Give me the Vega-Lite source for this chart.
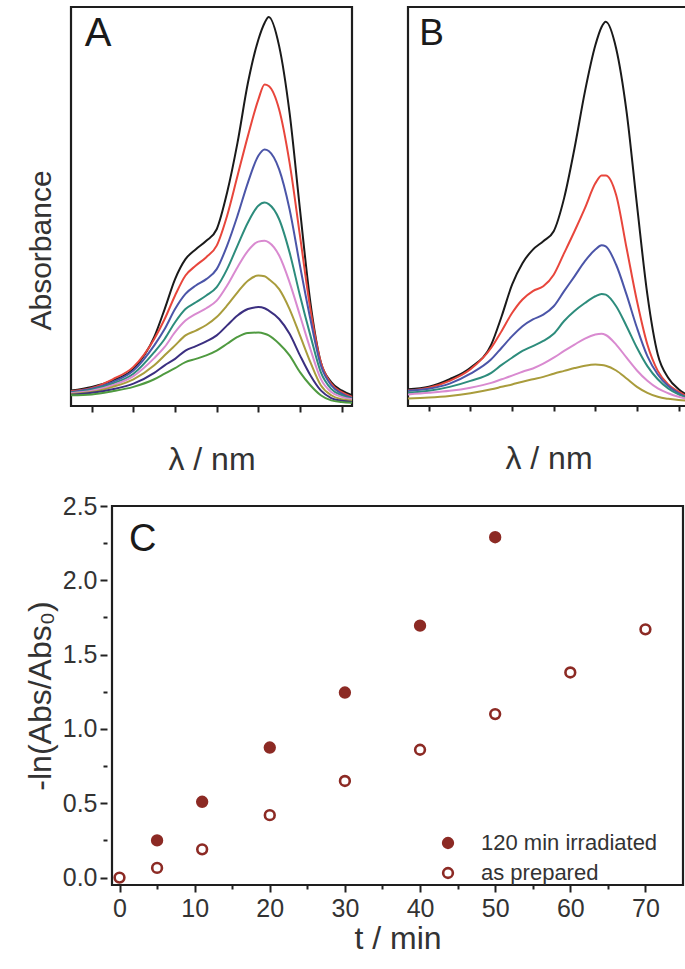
{
  "$schema": "https://vega.github.io/schema/vega-lite/v6.json",
  "background": "white",
  "padding": {"left": 24, "top": 5, "right": 5, "bottom": 5},
  "config": {
    "font": "Liberation Sans",
    "view": {"stroke": "#1e1e1e", "strokeWidth": 2.2},
    "axis": {"domain": false, "grid": false, "labelColor": "#333333", "titleColor": "#333333", "tickColor": "#222222", "tickWidth": 2, "labelFont": "Liberation Sans", "titleFont": "Liberation Sans", "titleFontWeight": "normal", "labelOverlap": false}
  },
  "datasets": {
    "spec": [
      {"p":"A","s":"1","nm":460,"a":0.039},{"p":"A","s":"1","nm":470,"a":0.048},{"p":"A","s":"1","nm":480,"a":0.064},{"p":"A","s":"1","nm":490,"a":0.093},{"p":"A","s":"1","nm":500,"a":0.173},{"p":"A","s":"1","nm":505,"a":0.243},{"p":"A","s":"1","nm":510,"a":0.318},{"p":"A","s":"1","nm":515,"a":0.368},{"p":"A","s":"1","nm":520,"a":0.393},{"p":"A","s":"1","nm":525,"a":0.414},{"p":"A","s":"1","nm":530,"a":0.443},{"p":"A","s":"1","nm":535,"a":0.535},{"p":"A","s":"1","nm":540,"a":0.660},{"p":"A","s":"1","nm":545,"a":0.810},{"p":"A","s":"1","nm":550,"a":0.918},{"p":"A","s":"1","nm":553,"a":0.960},{"p":"A","s":"1","nm":555,"a":0.975},{"p":"A","s":"1","nm":560,"a":0.902},{"p":"A","s":"1","nm":565,"a":0.735},{"p":"A","s":"1","nm":570,"a":0.493},{"p":"A","s":"1","nm":575,"a":0.260},{"p":"A","s":"1","nm":580,"a":0.110},{"p":"A","s":"1","nm":585,"a":0.060},{"p":"A","s":"1","nm":590,"a":0.039},{"p":"A","s":"1","nm":595,"a":0.027},
      {"p":"A","s":"2","nm":460,"a":0.037},{"p":"A","s":"2","nm":470,"a":0.045},{"p":"A","s":"2","nm":480,"a":0.067},{"p":"A","s":"2","nm":490,"a":0.098},{"p":"A","s":"2","nm":500,"a":0.168},{"p":"A","s":"2","nm":505,"a":0.218},{"p":"A","s":"2","nm":510,"a":0.277},{"p":"A","s":"2","nm":515,"a":0.327},{"p":"A","s":"2","nm":520,"a":0.352},{"p":"A","s":"2","nm":525,"a":0.373},{"p":"A","s":"2","nm":530,"a":0.402},{"p":"A","s":"2","nm":535,"a":0.477},{"p":"A","s":"2","nm":540,"a":0.577},{"p":"A","s":"2","nm":545,"a":0.677},{"p":"A","s":"2","nm":550,"a":0.768},{"p":"A","s":"2","nm":553,"a":0.806},{"p":"A","s":"2","nm":555,"a":0.802},{"p":"A","s":"2","nm":560,"a":0.743},{"p":"A","s":"2","nm":565,"a":0.610},{"p":"A","s":"2","nm":570,"a":0.427},{"p":"A","s":"2","nm":575,"a":0.243},{"p":"A","s":"2","nm":580,"a":0.110},{"p":"A","s":"2","nm":585,"a":0.056},{"p":"A","s":"2","nm":590,"a":0.035},{"p":"A","s":"2","nm":595,"a":0.023},
      {"p":"A","s":"3","nm":460,"a":0.035},{"p":"A","s":"3","nm":470,"a":0.043},{"p":"A","s":"3","nm":480,"a":0.060},{"p":"A","s":"3","nm":490,"a":0.089},{"p":"A","s":"3","nm":500,"a":0.152},{"p":"A","s":"3","nm":505,"a":0.193},{"p":"A","s":"3","nm":510,"a":0.243},{"p":"A","s":"3","nm":515,"a":0.281},{"p":"A","s":"3","nm":520,"a":0.302},{"p":"A","s":"3","nm":525,"a":0.318},{"p":"A","s":"3","nm":530,"a":0.343},{"p":"A","s":"3","nm":535,"a":0.402},{"p":"A","s":"3","nm":540,"a":0.477},{"p":"A","s":"3","nm":545,"a":0.560},{"p":"A","s":"3","nm":550,"a":0.627},{"p":"A","s":"3","nm":553,"a":0.643},{"p":"A","s":"3","nm":555,"a":0.639},{"p":"A","s":"3","nm":560,"a":0.593},{"p":"A","s":"3","nm":565,"a":0.493},{"p":"A","s":"3","nm":570,"a":0.352},{"p":"A","s":"3","nm":575,"a":0.218},{"p":"A","s":"3","nm":580,"a":0.102},{"p":"A","s":"3","nm":585,"a":0.052},{"p":"A","s":"3","nm":590,"a":0.031},{"p":"A","s":"3","nm":595,"a":0.020},
      {"p":"A","s":"4","nm":460,"a":0.033},{"p":"A","s":"4","nm":470,"a":0.041},{"p":"A","s":"4","nm":480,"a":0.056},{"p":"A","s":"4","nm":490,"a":0.081},{"p":"A","s":"4","nm":500,"a":0.135},{"p":"A","s":"4","nm":505,"a":0.168},{"p":"A","s":"4","nm":510,"a":0.210},{"p":"A","s":"4","nm":515,"a":0.243},{"p":"A","s":"4","nm":520,"a":0.260},{"p":"A","s":"4","nm":525,"a":0.277},{"p":"A","s":"4","nm":530,"a":0.298},{"p":"A","s":"4","nm":535,"a":0.343},{"p":"A","s":"4","nm":540,"a":0.402},{"p":"A","s":"4","nm":545,"a":0.460},{"p":"A","s":"4","nm":550,"a":0.502},{"p":"A","s":"4","nm":553,"a":0.510},{"p":"A","s":"4","nm":555,"a":0.506},{"p":"A","s":"4","nm":560,"a":0.468},{"p":"A","s":"4","nm":565,"a":0.385},{"p":"A","s":"4","nm":570,"a":0.277},{"p":"A","s":"4","nm":575,"a":0.177},{"p":"A","s":"4","nm":580,"a":0.085},{"p":"A","s":"4","nm":585,"a":0.043},{"p":"A","s":"4","nm":590,"a":0.027},{"p":"A","s":"4","nm":595,"a":0.018},
      {"p":"A","s":"5","nm":460,"a":0.032},{"p":"A","s":"5","nm":470,"a":0.038},{"p":"A","s":"5","nm":480,"a":0.052},{"p":"A","s":"5","nm":490,"a":0.075},{"p":"A","s":"5","nm":500,"a":0.120},{"p":"A","s":"5","nm":505,"a":0.148},{"p":"A","s":"5","nm":510,"a":0.185},{"p":"A","s":"5","nm":515,"a":0.214},{"p":"A","s":"5","nm":520,"a":0.231},{"p":"A","s":"5","nm":525,"a":0.245},{"p":"A","s":"5","nm":530,"a":0.264},{"p":"A","s":"5","nm":535,"a":0.302},{"p":"A","s":"5","nm":540,"a":0.348},{"p":"A","s":"5","nm":545,"a":0.389},{"p":"A","s":"5","nm":550,"a":0.412},{"p":"A","s":"5","nm":553,"a":0.414},{"p":"A","s":"5","nm":555,"a":0.410},{"p":"A","s":"5","nm":560,"a":0.377},{"p":"A","s":"5","nm":565,"a":0.310},{"p":"A","s":"5","nm":570,"a":0.227},{"p":"A","s":"5","nm":575,"a":0.143},{"p":"A","s":"5","nm":580,"a":0.068},{"p":"A","s":"5","nm":585,"a":0.035},{"p":"A","s":"5","nm":590,"a":0.023},{"p":"A","s":"5","nm":595,"a":0.017},
      {"p":"A","s":"6","nm":460,"a":0.030},{"p":"A","s":"6","nm":470,"a":0.035},{"p":"A","s":"6","nm":480,"a":0.048},{"p":"A","s":"6","nm":490,"a":0.067},{"p":"A","s":"6","nm":500,"a":0.102},{"p":"A","s":"6","nm":505,"a":0.127},{"p":"A","s":"6","nm":510,"a":0.152},{"p":"A","s":"6","nm":515,"a":0.177},{"p":"A","s":"6","nm":520,"a":0.189},{"p":"A","s":"6","nm":525,"a":0.203},{"p":"A","s":"6","nm":530,"a":0.223},{"p":"A","s":"6","nm":535,"a":0.252},{"p":"A","s":"6","nm":540,"a":0.285},{"p":"A","s":"6","nm":545,"a":0.314},{"p":"A","s":"6","nm":550,"a":0.327},{"p":"A","s":"6","nm":553,"a":0.325},{"p":"A","s":"6","nm":555,"a":0.318},{"p":"A","s":"6","nm":560,"a":0.293},{"p":"A","s":"6","nm":565,"a":0.243},{"p":"A","s":"6","nm":570,"a":0.177},{"p":"A","s":"6","nm":575,"a":0.110},{"p":"A","s":"6","nm":580,"a":0.052},{"p":"A","s":"6","nm":585,"a":0.027},{"p":"A","s":"6","nm":590,"a":0.017},{"p":"A","s":"6","nm":595,"a":0.013},
      {"p":"A","s":"7","nm":460,"a":0.028},{"p":"A","s":"7","nm":470,"a":0.033},{"p":"A","s":"7","nm":480,"a":0.042},{"p":"A","s":"7","nm":490,"a":0.056},{"p":"A","s":"7","nm":500,"a":0.083},{"p":"A","s":"7","nm":505,"a":0.102},{"p":"A","s":"7","nm":510,"a":0.118},{"p":"A","s":"7","nm":515,"a":0.139},{"p":"A","s":"7","nm":520,"a":0.150},{"p":"A","s":"7","nm":525,"a":0.162},{"p":"A","s":"7","nm":530,"a":0.177},{"p":"A","s":"7","nm":535,"a":0.202},{"p":"A","s":"7","nm":540,"a":0.227},{"p":"A","s":"7","nm":545,"a":0.243},{"p":"A","s":"7","nm":550,"a":0.248},{"p":"A","s":"7","nm":553,"a":0.245},{"p":"A","s":"7","nm":555,"a":0.239},{"p":"A","s":"7","nm":560,"a":0.218},{"p":"A","s":"7","nm":565,"a":0.181},{"p":"A","s":"7","nm":570,"a":0.127},{"p":"A","s":"7","nm":575,"a":0.077},{"p":"A","s":"7","nm":580,"a":0.039},{"p":"A","s":"7","nm":585,"a":0.020},{"p":"A","s":"7","nm":590,"a":0.013},{"p":"A","s":"7","nm":595,"a":0.010},
      {"p":"A","s":"8","nm":460,"a":0.027},{"p":"A","s":"8","nm":470,"a":0.029},{"p":"A","s":"8","nm":480,"a":0.037},{"p":"A","s":"8","nm":490,"a":0.048},{"p":"A","s":"8","nm":500,"a":0.067},{"p":"A","s":"8","nm":505,"a":0.081},{"p":"A","s":"8","nm":510,"a":0.095},{"p":"A","s":"8","nm":515,"a":0.110},{"p":"A","s":"8","nm":520,"a":0.118},{"p":"A","s":"8","nm":525,"a":0.127},{"p":"A","s":"8","nm":530,"a":0.139},{"p":"A","s":"8","nm":535,"a":0.156},{"p":"A","s":"8","nm":540,"a":0.173},{"p":"A","s":"8","nm":545,"a":0.183},{"p":"A","s":"8","nm":550,"a":0.184},{"p":"A","s":"8","nm":553,"a":0.181},{"p":"A","s":"8","nm":555,"a":0.177},{"p":"A","s":"8","nm":560,"a":0.156},{"p":"A","s":"8","nm":565,"a":0.127},{"p":"A","s":"8","nm":570,"a":0.085},{"p":"A","s":"8","nm":575,"a":0.052},{"p":"A","s":"8","nm":580,"a":0.027},{"p":"A","s":"8","nm":585,"a":0.014},{"p":"A","s":"8","nm":590,"a":0.010},{"p":"A","s":"8","nm":595,"a":0.008},
      {"p":"B","s":"1","nm":460,"a":0.042},{"p":"B","s":"1","nm":470,"a":0.048},{"p":"B","s":"1","nm":480,"a":0.067},{"p":"B","s":"1","nm":490,"a":0.096},{"p":"B","s":"1","nm":500,"a":0.154},{"p":"B","s":"1","nm":505,"a":0.225},{"p":"B","s":"1","nm":510,"a":0.304},{"p":"B","s":"1","nm":515,"a":0.358},{"p":"B","s":"1","nm":520,"a":0.392},{"p":"B","s":"1","nm":525,"a":0.413},{"p":"B","s":"1","nm":530,"a":0.438},{"p":"B","s":"1","nm":535,"a":0.521},{"p":"B","s":"1","nm":540,"a":0.646},{"p":"B","s":"1","nm":545,"a":0.788},{"p":"B","s":"1","nm":550,"a":0.904},{"p":"B","s":"1","nm":553,"a":0.950},{"p":"B","s":"1","nm":555,"a":0.963},{"p":"B","s":"1","nm":560,"a":0.896},{"p":"B","s":"1","nm":565,"a":0.738},{"p":"B","s":"1","nm":570,"a":0.504},{"p":"B","s":"1","nm":575,"a":0.279},{"p":"B","s":"1","nm":580,"a":0.129},{"p":"B","s":"1","nm":585,"a":0.071},{"p":"B","s":"1","nm":590,"a":0.042},{"p":"B","s":"1","nm":595,"a":0.025},
      {"p":"B","s":"2","nm":460,"a":0.039},{"p":"B","s":"2","nm":470,"a":0.046},{"p":"B","s":"2","nm":480,"a":0.063},{"p":"B","s":"2","nm":490,"a":0.092},{"p":"B","s":"2","nm":500,"a":0.146},{"p":"B","s":"2","nm":505,"a":0.188},{"p":"B","s":"2","nm":510,"a":0.233},{"p":"B","s":"2","nm":515,"a":0.267},{"p":"B","s":"2","nm":520,"a":0.288},{"p":"B","s":"2","nm":525,"a":0.300},{"p":"B","s":"2","nm":530,"a":0.329},{"p":"B","s":"2","nm":535,"a":0.383},{"p":"B","s":"2","nm":540,"a":0.438},{"p":"B","s":"2","nm":545,"a":0.496},{"p":"B","s":"2","nm":550,"a":0.558},{"p":"B","s":"2","nm":553,"a":0.578},{"p":"B","s":"2","nm":555,"a":0.578},{"p":"B","s":"2","nm":560,"a":0.529},{"p":"B","s":"2","nm":565,"a":0.396},{"p":"B","s":"2","nm":570,"a":0.263},{"p":"B","s":"2","nm":575,"a":0.154},{"p":"B","s":"2","nm":580,"a":0.088},{"p":"B","s":"2","nm":585,"a":0.054},{"p":"B","s":"2","nm":590,"a":0.036},{"p":"B","s":"2","nm":595,"a":0.021},
      {"p":"B","s":"3","nm":460,"a":0.038},{"p":"B","s":"3","nm":470,"a":0.043},{"p":"B","s":"3","nm":480,"a":0.056},{"p":"B","s":"3","nm":490,"a":0.081},{"p":"B","s":"3","nm":500,"a":0.117},{"p":"B","s":"3","nm":505,"a":0.146},{"p":"B","s":"3","nm":510,"a":0.175},{"p":"B","s":"3","nm":515,"a":0.200},{"p":"B","s":"3","nm":520,"a":0.217},{"p":"B","s":"3","nm":525,"a":0.229},{"p":"B","s":"3","nm":530,"a":0.250},{"p":"B","s":"3","nm":535,"a":0.288},{"p":"B","s":"3","nm":540,"a":0.325},{"p":"B","s":"3","nm":545,"a":0.363},{"p":"B","s":"3","nm":550,"a":0.392},{"p":"B","s":"3","nm":553,"a":0.403},{"p":"B","s":"3","nm":555,"a":0.400},{"p":"B","s":"3","nm":560,"a":0.354},{"p":"B","s":"3","nm":565,"a":0.279},{"p":"B","s":"3","nm":570,"a":0.196},{"p":"B","s":"3","nm":575,"a":0.125},{"p":"B","s":"3","nm":580,"a":0.079},{"p":"B","s":"3","nm":585,"a":0.050},{"p":"B","s":"3","nm":590,"a":0.032},{"p":"B","s":"3","nm":595,"a":0.019},
      {"p":"B","s":"4","nm":460,"a":0.033},{"p":"B","s":"4","nm":470,"a":0.038},{"p":"B","s":"4","nm":480,"a":0.048},{"p":"B","s":"4","nm":490,"a":0.063},{"p":"B","s":"4","nm":500,"a":0.083},{"p":"B","s":"4","nm":505,"a":0.103},{"p":"B","s":"4","nm":510,"a":0.121},{"p":"B","s":"4","nm":515,"a":0.138},{"p":"B","s":"4","nm":520,"a":0.150},{"p":"B","s":"4","nm":525,"a":0.163},{"p":"B","s":"4","nm":530,"a":0.181},{"p":"B","s":"4","nm":535,"a":0.213},{"p":"B","s":"4","nm":540,"a":0.238},{"p":"B","s":"4","nm":545,"a":0.258},{"p":"B","s":"4","nm":550,"a":0.275},{"p":"B","s":"4","nm":553,"a":0.281},{"p":"B","s":"4","nm":555,"a":0.279},{"p":"B","s":"4","nm":560,"a":0.250},{"p":"B","s":"4","nm":565,"a":0.200},{"p":"B","s":"4","nm":570,"a":0.146},{"p":"B","s":"4","nm":575,"a":0.100},{"p":"B","s":"4","nm":580,"a":0.067},{"p":"B","s":"4","nm":585,"a":0.044},{"p":"B","s":"4","nm":590,"a":0.029},{"p":"B","s":"4","nm":595,"a":0.019},
      {"p":"B","s":"5","nm":460,"a":0.029},{"p":"B","s":"5","nm":470,"a":0.033},{"p":"B","s":"5","nm":480,"a":0.038},{"p":"B","s":"5","nm":490,"a":0.046},{"p":"B","s":"5","nm":500,"a":0.058},{"p":"B","s":"5","nm":505,"a":0.067},{"p":"B","s":"5","nm":510,"a":0.076},{"p":"B","s":"5","nm":515,"a":0.086},{"p":"B","s":"5","nm":520,"a":0.094},{"p":"B","s":"5","nm":525,"a":0.106},{"p":"B","s":"5","nm":530,"a":0.121},{"p":"B","s":"5","nm":535,"a":0.138},{"p":"B","s":"5","nm":540,"a":0.154},{"p":"B","s":"5","nm":545,"a":0.169},{"p":"B","s":"5","nm":550,"a":0.179},{"p":"B","s":"5","nm":553,"a":0.181},{"p":"B","s":"5","nm":555,"a":0.178},{"p":"B","s":"5","nm":560,"a":0.154},{"p":"B","s":"5","nm":565,"a":0.121},{"p":"B","s":"5","nm":570,"a":0.089},{"p":"B","s":"5","nm":575,"a":0.063},{"p":"B","s":"5","nm":580,"a":0.044},{"p":"B","s":"5","nm":585,"a":0.032},{"p":"B","s":"5","nm":590,"a":0.023},{"p":"B","s":"5","nm":595,"a":0.017},
      {"p":"B","s":"6","nm":460,"a":0.019},{"p":"B","s":"6","nm":470,"a":0.021},{"p":"B","s":"6","nm":480,"a":0.025},{"p":"B","s":"6","nm":490,"a":0.032},{"p":"B","s":"6","nm":500,"a":0.042},{"p":"B","s":"6","nm":505,"a":0.048},{"p":"B","s":"6","nm":510,"a":0.054},{"p":"B","s":"6","nm":515,"a":0.061},{"p":"B","s":"6","nm":520,"a":0.067},{"p":"B","s":"6","nm":525,"a":0.073},{"p":"B","s":"6","nm":530,"a":0.081},{"p":"B","s":"6","nm":535,"a":0.088},{"p":"B","s":"6","nm":540,"a":0.095},{"p":"B","s":"6","nm":545,"a":0.101},{"p":"B","s":"6","nm":550,"a":0.104},{"p":"B","s":"6","nm":553,"a":0.103},{"p":"B","s":"6","nm":555,"a":0.101},{"p":"B","s":"6","nm":560,"a":0.089},{"p":"B","s":"6","nm":565,"a":0.069},{"p":"B","s":"6","nm":570,"a":0.048},{"p":"B","s":"6","nm":575,"a":0.033},{"p":"B","s":"6","nm":580,"a":0.023},{"p":"B","s":"6","nm":585,"a":0.018},{"p":"B","s":"6","nm":590,"a":0.015},{"p":"B","s":"6","nm":595,"a":0.013}
    ],
    "kin": [
      {"series":"120 min irradiated","t":5,"v":0.25},
      {"series":"120 min irradiated","t":11,"v":0.51},
      {"series":"120 min irradiated","t":20,"v":0.875},
      {"series":"120 min irradiated","t":30,"v":1.245},
      {"series":"120 min irradiated","t":40,"v":1.695},
      {"series":"120 min irradiated","t":50,"v":2.29},
      {"series":"as prepared","t":0,"v":0.0},
      {"series":"as prepared","t":5,"v":0.065},
      {"series":"as prepared","t":11,"v":0.19},
      {"series":"as prepared","t":20,"v":0.42},
      {"series":"as prepared","t":30,"v":0.65},
      {"series":"as prepared","t":40,"v":0.86},
      {"series":"as prepared","t":50,"v":1.10},
      {"series":"as prepared","t":60,"v":1.38},
      {"series":"as prepared","t":70,"v":1.67}
    ]
  },
  "spacing": 17,
  "vconcat": [
    {
      "spacing": 44,
      "hconcat": [
        {
          "width": 281, "height": 399,
          "layer": [
            {
              "data": {"name": "spec"},
              "transform": [{"filter": "datum.p == 'A'"}],
              "mark": {"type": "line", "interpolate": "monotone", "strokeWidth": 2},
              "encoding": {
                "x": {"field": "nm", "type": "quantitative", "scale": {"domain": [460, 595], "nice": false, "zero": false},
                  "axis": {"values": [470,480,490,500,510,520,530,540,550,560,570,580,590], "labelExpr": "datum.value % 40 == 0 ? datum.label : ''", "tickSize": 6, "labelFontSize": 21, "labelPadding": 5, "title": "λ / nm", "titleFontSize": 32, "titlePadding": 6}},
                "y": {"field": "a", "type": "quantitative", "scale": {"domain": [0, 1], "nice": false},
                  "axis": {"title": "Absorbance", "labels": false, "ticks": false, "titleFontSize": 30, "titlePadding": 15, "minExtent": 0, "titleY": 243}},
                "color": {"field": "s", "type": "nominal", "scale": {"domain": ["1","2","3","4","5","6","7","8"], "range": ["#1a1a1a","#e8463c","#4b55a8","#2d8c7c","#d98ad0","#a99c3c","#3b2f80","#4f9a40"]}, "legend": null}
              }
            },
            {
              "data": {"values": [{"label": "A"}]},
              "mark": {"type": "text", "fontSize": 40, "align": "center", "baseline": "middle", "color": "#1a1a1a"},
              "encoding": {"text": {"field": "label"}, "x": {"datum": 473}, "y": {"datum": 0.932}}
            }
          ]
        },
        {
          "width": 281, "height": 399,
          "layer": [
            {
              "data": {"name": "spec"},
              "transform": [{"filter": "datum.p == 'B'"}],
              "mark": {"type": "line", "interpolate": "monotone", "strokeWidth": 2},
              "encoding": {
                "x": {"field": "nm", "type": "quantitative", "scale": {"domain": [460, 595], "nice": false, "zero": false},
                  "axis": {"values": [470,480,490,500,510,520,530,540,550,560,570,580,590], "labelExpr": "datum.value % 40 == 0 ? datum.label : ''", "tickSize": {"condition": {"test": "datum.value % 40 == 0", "value": 8}, "value": 5}, "labelFontSize": 21, "labelPadding": 5, "title": "λ / nm", "titleFontSize": 32, "titlePadding": 6}},
                "y": {"field": "a", "type": "quantitative", "scale": {"domain": [0, 1], "nice": false}, "axis": null},
                "color": {"field": "s", "type": "nominal", "scale": {"domain": ["1","2","3","4","5","6","7","8"], "range": ["#1a1a1a","#e8463c","#4b55a8","#2d8c7c","#d98ad0","#a99c3c","#3b2f80","#4f9a40"]}, "legend": null}
              }
            },
            {
              "data": {"values": [{"label": "B"}]},
              "mark": {"type": "text", "fontSize": 37, "align": "center", "baseline": "middle", "color": "#1a1a1a"},
              "encoding": {"text": {"field": "label"}, "x": {"datum": 471.3}, "y": {"datum": 0.932}}
            }
          ]
        }
      ]
    },
    {
      "spacing": 0,
      "hconcat": [
        {
          "width": 36, "height": 379,
          "view": {"stroke": null},
          "data": {"name": "kin"},
          "mark": {"type": "point", "opacity": 0},
          "encoding": {
            "y": {"field": "v", "type": "quantitative", "scale": {"domain": [-0.05, 2.5], "nice": false, "zero": false},
              "axis": {"offset": -36, "values": [0,0.25,0.5,0.75,1,1.25,1.5,1.75,2,2.25,2.5], "labelExpr": "(datum.value * 2) % 1 == 0 ? format(datum.value, '.1f') : ''", "tickSize": {"condition": {"test": "(datum.value * 2) % 1 == 0", "value": 7}, "value": 4}, "labelFontSize": 25, "labelPadding": 3, "labelBaseline": "middle", "title": "-ln(Abs/Abs₀)", "titleFontSize": 32, "titlePadding": 4, "minExtent": 46, "maxExtent": 46}}
          }
        },
        {
          "width": 571, "height": 379,
          "layer": [
            {
              "data": {"name": "kin"},
              "mark": {"type": "point", "shape": "circle", "size": 95, "strokeWidth": 2.6, "stroke": "#8c2a24", "opacity": 1},
              "encoding": {
                "x": {"field": "t", "type": "quantitative", "scale": {"domain": [-1, 75], "nice": false, "zero": false},
                  "axis": {"values": [0,5,10,15,20,25,30,35,40,45,50,55,60,65,70], "labelExpr": "datum.value % 10 == 0 ? '' + datum.value : ''", "tickSize": {"condition": {"test": "datum.value % 10 == 0", "value": 7}, "value": 4}, "labelFontSize": 25, "labelPadding": 4, "title": "t / min", "titleFontSize": 32, "titlePadding": 2}},
                "y": {"field": "v", "type": "quantitative", "scale": {"domain": [-0.05, 2.5], "nice": false, "zero": false}, "axis": null},
                "fill": {"field": "series", "type": "nominal", "scale": {"domain": ["120 min irradiated", "as prepared"], "range": ["#8c2a24", "#ffffff"]},
                  "legend": {"orient": "none", "legendX": 366, "legendY": 825, "title": null, "symbolType": "circle", "symbolSize": 95, "symbolStrokeColor": "#8c2a24", "symbolStrokeWidth": 2.6, "labelFontSize": 22, "labelColor": "#333333", "labelOffset": 22, "labelLimit": 400, "rowPadding": 8}}
              }
            },
            {
              "data": {"values": [{"label": "C"}]},
              "mark": {"type": "text", "fontSize": 38, "align": "center", "baseline": "middle", "color": "#1a1a1a"},
              "encoding": {"text": {"field": "label"}, "x": {"datum": 3.1}, "y": {"datum": 2.27}}
            }
          ]
        }
      ]
    }
  ]
}
